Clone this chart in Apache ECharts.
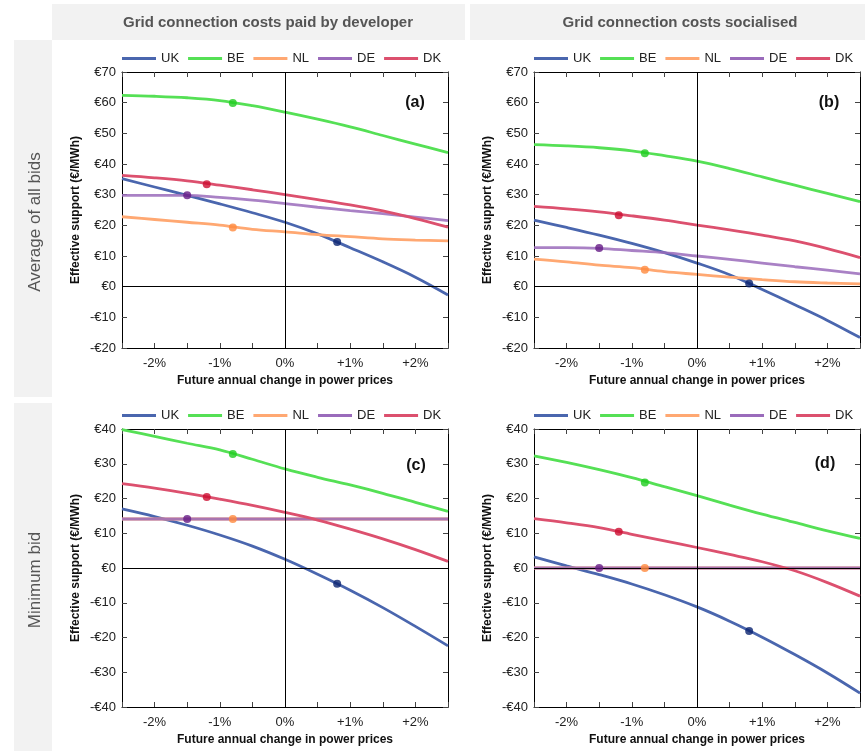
<!DOCTYPE html>
<html>
<head>
<meta charset="utf-8">
<script src="https://cdn.jsdelivr.net/npm/echarts@6/dist/echarts.min.js"></script>
<style>
	html, body { margin: 0; padding: 0; background: #fff; }
	#container { width: 865px; height: 751px; }
</style>
</head>
<body>
<div id="container"></div>
<script type="text/javascript">
	// x positions (future annual change in power prices, %)
	var xs = [-2.5, -2, -1.5, -1, -0.5, 0, 0.5, 1, 1.5, 2, 2.5];
	var countries = ['UK', 'BE', 'NL', 'DE', 'DK'];
	var lineColors = ['#4a66ae', '#55e055', '#ffa872', '#9a6bbb', '#dc506e'];
	var dotColors = ['#0b2470', '#1fcc1f', '#ff8a3d', '#651c86', '#cc0c30'];
	// where the dot sits on each curve
	var markerX = [0.8, -0.8, -0.8, -1.5, -1.2];

	// tick labels
	var xTickVals = [-2, -1, 0, 1, 2];
	var xTickLabels = ['-2%', '-1%', '0%', '+1%', '+2%'];
	var yTicksTop = [-20, -10, 0, 10, 20, 30, 40, 50, 60, 70];
	var yTicksBottom = [-40, -30, -20, -10, 0, 10, 20, 30, 40];

	// (a) average of all bids, grid costs paid by developer
	var ukA = [35.2, 32.5, 29.8, 27.0, 24.1, 21.0, 17.2, 12.7, 8.1, 3.1, -2.7];
	var beA = [62.4, 62.1, 61.6, 60.7, 59.0, 56.9, 54.6, 52.1, 49.3, 46.5, 43.7];
	var nlA = [22.8, 21.9, 21.0, 20.1, 18.7, 17.9, 17.0, 16.3, 15.6, 15.2, 14.9];
	var deA = [29.8, 29.8, 29.8, 29.1, 28.2, 27.1, 25.9, 24.8, 23.8, 22.7, 21.5];
	var dkA = [36.3, 35.5, 34.5, 33.1, 31.6, 30.0, 28.4, 26.7, 24.7, 22.2, 19.4];
	var dotsA = [14.6, 59.9, 19.3, 29.8, 33.4];

	// (b) average of all bids, grid costs socialised
	var ukB = [21.7, 19.3, 16.8, 14.1, 11.1, 7.7, 3.9, -0.9, -5.9, -11.0, -16.6];
	var beB = [46.3, 45.9, 45.3, 44.3, 42.7, 40.9, 38.5, 35.8, 33.1, 30.4, 27.7];
	var nlB = [9.0, 8.1, 7.0, 6.2, 4.9, 4.0, 3.1, 2.3, 1.6, 1.2, 0.9];
	var deB = [12.7, 12.7, 12.5, 11.8, 11.1, 10.0, 8.9, 7.7, 6.5, 5.4, 4.2];
	var dkB = [26.2, 25.4, 24.4, 23.1, 21.7, 20.1, 18.5, 16.8, 14.9, 12.4, 9.5];
	var dotsB = [1.0, 43.5, 5.5, 12.6, 23.3];

	// (c) minimum bid, grid costs paid by developer
	var ukC = [17.0, 14.8, 12.3, 9.5, 6.3, 2.5, -1.8, -6.4, -11.4, -16.8, -22.4];
	var beC = [39.8, 37.9, 35.9, 34.0, 31.3, 28.5, 26.1, 23.9, 21.5, 18.9, 16.3];
	var nlC = [14.1, 14.1, 14.1, 14.1, 14.1, 14.1, 14.1, 14.1, 14.1, 14.1, 14.1];
	var deC = [14.1, 14.1, 14.1, 14.1, 14.1, 14.1, 14.1, 14.1, 14.1, 14.1, 14.1];
	var dkC = [24.3, 23.0, 21.5, 19.8, 18.0, 16.0, 13.8, 11.2, 8.4, 5.3, 1.9];
	var dotsC = [-4.5, 32.8, 14.1, 14.1, 20.4];

	// (d) minimum bid, grid costs socialised
	var ukD = [3.2, 0.6, -1.9, -4.6, -7.7, -11.2, -15.3, -19.9, -24.9, -30.2, -36.0];
	var beD = [32.3, 30.4, 28.3, 26.0, 23.4, 20.8, 18.1, 15.5, 13.1, 10.7, 8.5];
	var nlD = [0, 0, 0, 0, 0, 0, 0, 0, 0, 0, 0];
	var deD = [0, 0, 0, 0, 0, 0, 0, 0, 0, 0, 0];
	var dkD = [14.2, 13.0, 11.6, 9.7, 7.8, 5.9, 3.9, 1.8, -0.8, -4.2, -8.1];
	var dotsD = [-18.1, 24.6, 0, 0, 10.4];

	var FONT = '"Liberation Sans", Arial, sans-serif';

	var panels = [
		{ label: '(a)', lines: [ukA, beA, nlA, deA, dkA], dots: dotsA, ticks: yTicksTop, left: 122, top: 72, height: 276, lx: 415, ly: 103 },
		{ label: '(b)', lines: [ukB, beB, nlB, deB, dkB], dots: dotsB, ticks: yTicksTop, left: 534, top: 72, height: 276, lx: 829, ly: 103 },
		{ label: '(c)', lines: [ukC, beC, nlC, deC, dkC], dots: dotsC, ticks: yTicksBottom, left: 122, top: 429, height: 278, lx: 416, ly: 466 },
		{ label: '(d)', lines: [ukD, beD, nlD, deD, dkD], dots: dotsD, ticks: yTicksBottom, left: 534, top: 429, height: 278, lx: 825, ly: 464 }
	];

	function xLabel(v) {
		for (var i = 0; i < xTickVals.length; i++) {
			if (Math.abs(v - xTickVals[i]) < 1e-6) return xTickLabels[i];
		}
		return '';
	}

	function euro(v) {
		return v < 0 ? '-€' + (-v) : '€' + v;
	}

	var dom = document.getElementById('container');
	var myChart = echarts.init(dom);

	var option = {
		animation: false,
		textStyle: { fontFamily: FONT },
		graphic: [
			{ type: 'rect', shape: { x: 52, y: 4, width: 413, height: 36 }, style: { fill: '#f2f2f2' } },
			{ type: 'rect', shape: { x: 470, y: 4, width: 395, height: 36 }, style: { fill: '#f2f2f2' } },
			{ type: 'rect', shape: { x: 14, y: 40, width: 38, height: 357 }, style: { fill: '#f2f2f2' } },
			{ type: 'rect', shape: { x: 14, y: 403, width: 38, height: 348 }, style: { fill: '#f2f2f2' } },
			{ type: 'text', x: 268, y: 23, style: { text: 'Grid connection costs paid by developer', font: 'bold 15px ' + FONT, fill: '#555', align: 'center', verticalAlign: 'middle' } },
			{ type: 'text', x: 680, y: 23, style: { text: 'Grid connection costs socialised', font: 'bold 15px ' + FONT, fill: '#555', align: 'center', verticalAlign: 'middle' } },
			{ type: 'text', x: 35, y: 222, rotation: Math.PI / 2, style: { text: 'Average of all bids', font: '17px ' + FONT, fill: '#555', align: 'center', verticalAlign: 'middle' } },
			{ type: 'text', x: 35, y: 580, rotation: Math.PI / 2, style: { text: 'Minimum bid', font: '17px ' + FONT, fill: '#555', align: 'center', verticalAlign: 'middle' } }
		],
		legend: [],
		grid: [],
		xAxis: [],
		yAxis: [],
		series: []
	};

	panels.forEach(function (p, i) {
		var ymin = p.ticks[0], ymax = p.ticks[p.ticks.length - 1];
		var ax = { show: true, onZero: false, lineStyle: { color: '#000', width: 1 } };
		var tick = { show: true, inside: true, length: 5, lineStyle: { color: '#444' } };

		option.graphic.push({ type: 'text', x: p.lx, y: p.ly, style: { text: p.label, font: 'bold 16px ' + FONT, fill: '#111', align: 'center', verticalAlign: 'middle' }, z: 100 });

		option.grid.push({ left: p.left, top: p.top, width: 326, height: p.height });

		option.legend.push({
			data: countries, left: p.left, top: p.top - 20, padding: 0,
			icon: 'rect', itemWidth: 34, itemHeight: 3, itemGap: 9,
			selectedMode: false,
			textStyle: { fontSize: 13, color: '#222', fontFamily: FONT }
		});

		option.xAxis.push({
			type: 'value', gridIndex: i, min: -2.5, max: 2.5, interval: 0.5,
			axisLine: ax, axisTick: tick, splitLine: { show: false },
			axisLabel: { formatter: xLabel, fontSize: 13, color: '#222', margin: 9 },
			name: 'Future annual change in power prices', nameLocation: 'middle', nameGap: 27,
			nameTextStyle: { fontWeight: 'bold', fontSize: 12, color: '#111' }
		});
		option.xAxis.push({
			type: 'value', gridIndex: i, position: 'top', min: -2.5, max: 2.5, interval: 0.5,
			axisLine: ax, axisTick: tick, splitLine: { show: false }, axisLabel: { show: false }
		});
		option.yAxis.push({
			type: 'value', gridIndex: i, min: ymin, max: ymax, interval: 10,
			axisLine: ax, axisTick: tick, splitLine: { show: false },
			axisLabel: { formatter: euro, fontSize: 13, color: '#222', margin: 6 },
			name: 'Effective support (€/MWh)', nameLocation: 'middle', nameGap: 40,
			nameTextStyle: { fontWeight: 'bold', fontSize: 12, color: '#111' }
		});
		option.yAxis.push({
			type: 'value', gridIndex: i, position: 'right', min: ymin, max: ymax, interval: 10,
			axisLine: ax, axisTick: tick, splitLine: { show: false }, axisLabel: { show: false }
		});

		countries.forEach(function (c, j) {
			var s = {
				type: 'line', name: c, xAxisIndex: 2 * i, yAxisIndex: 2 * i,
				data: xs.map(function (x, k) { return [x, p.lines[j][k]]; }),
				smooth: 0.35, symbol: 'none', showSymbol: false,
				lineStyle: { width: 2.8, color: lineColors[j], opacity: c === 'DE' ? 0.85 : 1 },
				itemStyle: { color: lineColors[j] },
				z: 2
			};
			if (j === 0) {
				s.markLine = {
					silent: true, symbol: 'none', label: { show: false },
					lineStyle: { color: '#000', width: 1, type: 'solid' },
					data: [{ xAxis: 0 }, { yAxis: 0 }]
				};
			}
			option.series.push(s);
		});

		option.series.push({
			type: 'scatter', name: 'dots', xAxisIndex: 2 * i, yAxisIndex: 2 * i,
			symbolSize: 8, z: 5,
			data: countries.map(function (c, j) {
				return { value: [markerX[j], p.dots[j]], itemStyle: { color: dotColors[j] } };
			})
		});
	});

	myChart.setOption(option, true);
</script>
</body>
</html>
